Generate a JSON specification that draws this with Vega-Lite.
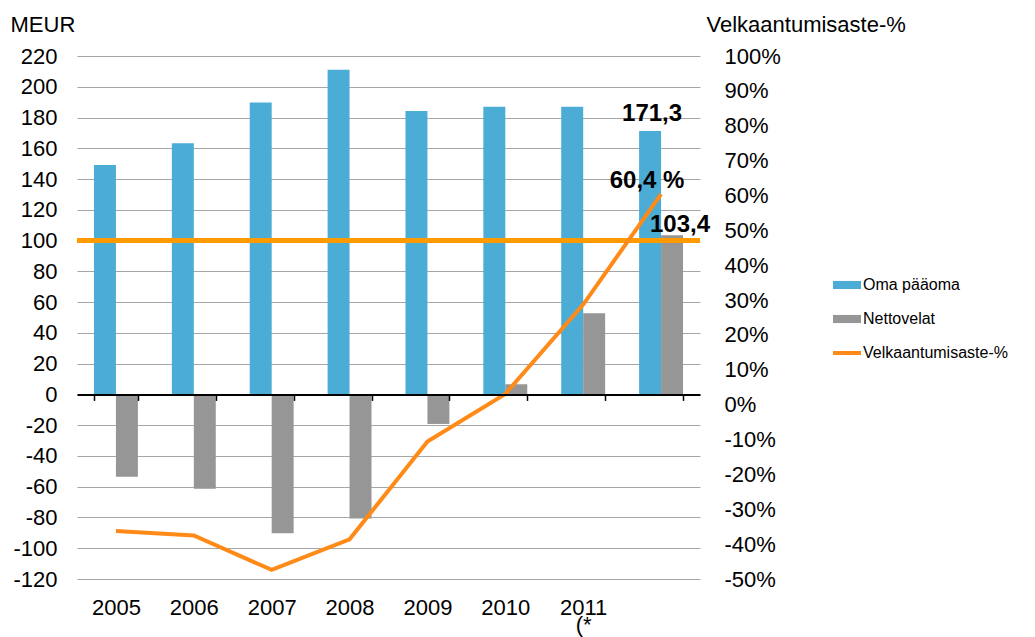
{
  "$schema": "https://vega.github.io/schema/vega-lite/v6.json",
  "autosize": "none",
  "width": 623,
  "height": 523,
  "padding": {"left": 77, "top": 56, "right": 335, "bottom": 58},
  "background": "white",
  "config": {
    "view": {"stroke": null},
    "font": "Liberation Sans",
    "axis": {"labelFont": "Liberation Sans", "titleFont": "Liberation Sans", "labelColor": "#000000", "titleColor": "#000000"},
    "legend": {"labelFont": "Liberation Sans"}
  },
  "datasets": {
    "bars": [
      {"year": "2005", "series": "Oma pääoma", "value": 149.2},
      {"year": "2005", "series": "Nettovelat", "value": -53.5},
      {"year": "2006", "series": "Oma pääoma", "value": 163.2},
      {"year": "2006", "series": "Nettovelat", "value": -61.3},
      {"year": "2007", "series": "Oma pääoma", "value": 189.7},
      {"year": "2007", "series": "Nettovelat", "value": -90.3},
      {"year": "2008", "series": "Oma pääoma", "value": 211.1},
      {"year": "2008", "series": "Nettovelat", "value": -80.6},
      {"year": "2009", "series": "Oma pääoma", "value": 184.2},
      {"year": "2009", "series": "Nettovelat", "value": -19.2},
      {"year": "2010", "series": "Oma pääoma", "value": 187.0},
      {"year": "2010", "series": "Nettovelat", "value": 6.6},
      {"year": "2011", "series": "Oma pääoma", "value": 187.0},
      {"year": "2011", "series": "Nettovelat", "value": 52.7},
      {"year": "2012", "series": "Oma pääoma", "value": 171.3, "label": "171,3"},
      {"year": "2012", "series": "Nettovelat", "value": 103.4, "label": "103,4"}
    ],
    "ratio": [
      {"year": "2005", "series": "Velkaantumisaste-%", "ratio": -0.362},
      {"year": "2006", "series": "Velkaantumisaste-%", "ratio": -0.375},
      {"year": "2007", "series": "Velkaantumisaste-%", "ratio": -0.474},
      {"year": "2008", "series": "Velkaantumisaste-%", "ratio": -0.386},
      {"year": "2009", "series": "Velkaantumisaste-%", "ratio": -0.106},
      {"year": "2010", "series": "Velkaantumisaste-%", "ratio": 0.031},
      {"year": "2011", "series": "Velkaantumisaste-%", "ratio": 0.287},
      {"year": "2012", "series": "Velkaantumisaste-%", "ratio": 0.604, "label": "60,4 %"}
    ],
    "target": [
      {"level": 100}
    ]
  },
  "encoding": {
    "x": {
      "field": "year",
      "type": "nominal",
      "sort": null,
      "scale": {"paddingInner": 0.436, "paddingOuter": 0.218},
      "axis": {
        "title": null,
        "labelAngle": 0,
        "offset": -184.6,
        "domain": true,
        "domainColor": "#000000",
        "domainWidth": 2,
        "ticks": true,
        "tickBand": "extent",
        "tickColor": "#000000",
        "tickWidth": 1.5,
        "tickSize": 6,
        "labelPadding": 197,
        "labelFontSize": 22,
        "labelBaseline": "top",
        "labelLineHeight": 17,
        "labelOverlap": false,
        "labelExpr": "datum.value == '2011' ? ['2011', '(*'] : (datum.value == '2012' ? '' : datum.value)",
        "zindex": 1
      }
    }
  },
  "layer": [
    {
      "layer": [
        {
          "data": {"name": "bars"},
          "mark": {"type": "bar"},
          "encoding": {
            "xOffset": {"field": "series", "type": "nominal", "sort": ["Oma pääoma", "Nettovelat"], "scale": {"paddingInner": 0, "paddingOuter": 0}},
            "y": {
              "field": "value",
              "type": "quantitative",
              "scale": {"domain": [-120, 220], "nice": false, "zero": false},
              "axis": {
                "values": [-120, -100, -80, -60, -40, -20, 0, 20, 40, 60, 80, 100, 120, 140, 160, 180, 200, 220],
                "tickCount": 30,
                "labelExpr": "replace(datum.label, '−', '-')",
                "labelOverlap": false,
                "grid": true,
                "gridColor": "#a6a6a6",
                "gridWidth": 1,
                "domain": false,
                "ticks": false,
                "labelPadding": 20,
                "labelFontSize": 22,
                "title": "MEUR",
                "titleAngle": 0,
                "titleAlign": "left",
                "titleBaseline": "alphabetic",
                "titleFontWeight": "normal",
                "titleFontSize": 22,
                "titleX": -67,
                "titleY": -25
              }
            },
            "color": {
              "field": "series",
              "type": "nominal",
              "scale": {"domain": ["Oma pääoma", "Nettovelat", "Velkaantumisaste-%"], "range": ["#4BACD6", "#969696", "#FF8A18"]},
              "legend": {
                "title": null,
                "orient": "none",
                "legendX": 762,
                "legendY": 221,
                "padding": 0,
                "labelFontSize": 16,
                "labelOffset": 8,
                "rowPadding": 18,
                "symbolSize": 784,
                "symbolType": "M-1,-0.29H1V0.29H-1Z",
                "symbolStrokeWidth": 0,
                "encode": {
                  "symbols": {
                    "update": {
                      "shape": {"signal": "datum.label == 'Velkaantumisaste-%' ? 'M-1,0H1' : 'M-1,-0.29H1V0.29H-1Z'"},
                      "strokeWidth": {"signal": "datum.label == 'Velkaantumisaste-%' ? 4 : 0"},
                      "stroke": {"signal": "datum.label == 'Velkaantumisaste-%' ? '#FF8A18' : 'transparent'"}
                    }
                  }
                }
              }
            }
          }
        },
        {
          "data": {"name": "bars"},
          "transform": [{"filter": "datum.series == 'Oma pääoma' && datum.label"}],
          "mark": {"type": "text", "fontSize": 24, "fontWeight": "bold", "baseline": "bottom", "dy": -5, "dx": 2, "color": "#000000"},
          "encoding": {
            "xOffset": {"field": "series", "type": "nominal", "sort": ["Oma pääoma", "Nettovelat"], "scale": {"paddingInner": 0, "paddingOuter": 0}},
            "y": {"field": "value", "type": "quantitative"},
            "text": {"field": "label"}
          }
        },
        {
          "data": {"name": "bars"},
          "transform": [{"filter": "datum.series == 'Nettovelat' && datum.label"}],
          "mark": {"type": "text", "fontSize": 24, "fontWeight": "bold", "baseline": "bottom", "dy": 2, "dx": 8, "color": "#000000"},
          "encoding": {
            "xOffset": {"field": "series", "type": "nominal", "sort": ["Oma pääoma", "Nettovelat"], "scale": {"paddingInner": 0, "paddingOuter": 0}},
            "y": {"field": "value", "type": "quantitative"},
            "text": {"field": "label"}
          }
        },
        {
          "data": {"name": "target"},
          "mark": {"type": "rule", "color": "#FF9A00", "strokeWidth": 5},
          "encoding": {
            "x": {"value": 0},
            "x2": {"value": 623},
            "y": {"field": "level", "type": "quantitative"}
          }
        }
      ]
    },
    {
      "layer": [
        {
          "data": {"name": "ratio"},
          "mark": {"type": "line", "strokeWidth": 4, "strokeJoin": "miter"},
          "encoding": {
            "y": {
              "field": "ratio",
              "type": "quantitative",
              "scale": {"domain": [-0.5, 1.0], "nice": false, "zero": false},
              "axis": {
                "orient": "right",
                "values": [-0.5, -0.4, -0.3, -0.2, -0.1, 0, 0.1, 0.2, 0.3, 0.4, 0.5, 0.6, 0.7, 0.8, 0.9, 1.0],
                "tickCount": 30,
                "format": ".0%",
                "labelExpr": "replace(datum.label, '−', '-')",
                "labelOverlap": false,
                "grid": false,
                "domain": false,
                "ticks": false,
                "labelPadding": 24,
                "labelFontSize": 22,
                "title": "Velkaantumisaste-%",
                "titleAngle": 0,
                "titleAlign": "left",
                "titleBaseline": "alphabetic",
                "titleFontWeight": "normal",
                "titleFontSize": 22,
                "titleX": 6,
                "titleY": -25
              }
            },
            "color": {"field": "series", "type": "nominal"}
          }
        },
        {
          "data": {"name": "ratio"},
          "transform": [{"filter": "datum.label"}],
          "mark": {"type": "text", "fontSize": 24, "fontWeight": "bold", "baseline": "bottom", "dy": -1, "dx": -14, "color": "#000000"},
          "encoding": {
            "y": {"field": "ratio", "type": "quantitative"},
            "text": {"field": "label"}
          }
        }
      ]
    }
  ],
  "resolve": {"scale": {"y": "independent"}}
}
